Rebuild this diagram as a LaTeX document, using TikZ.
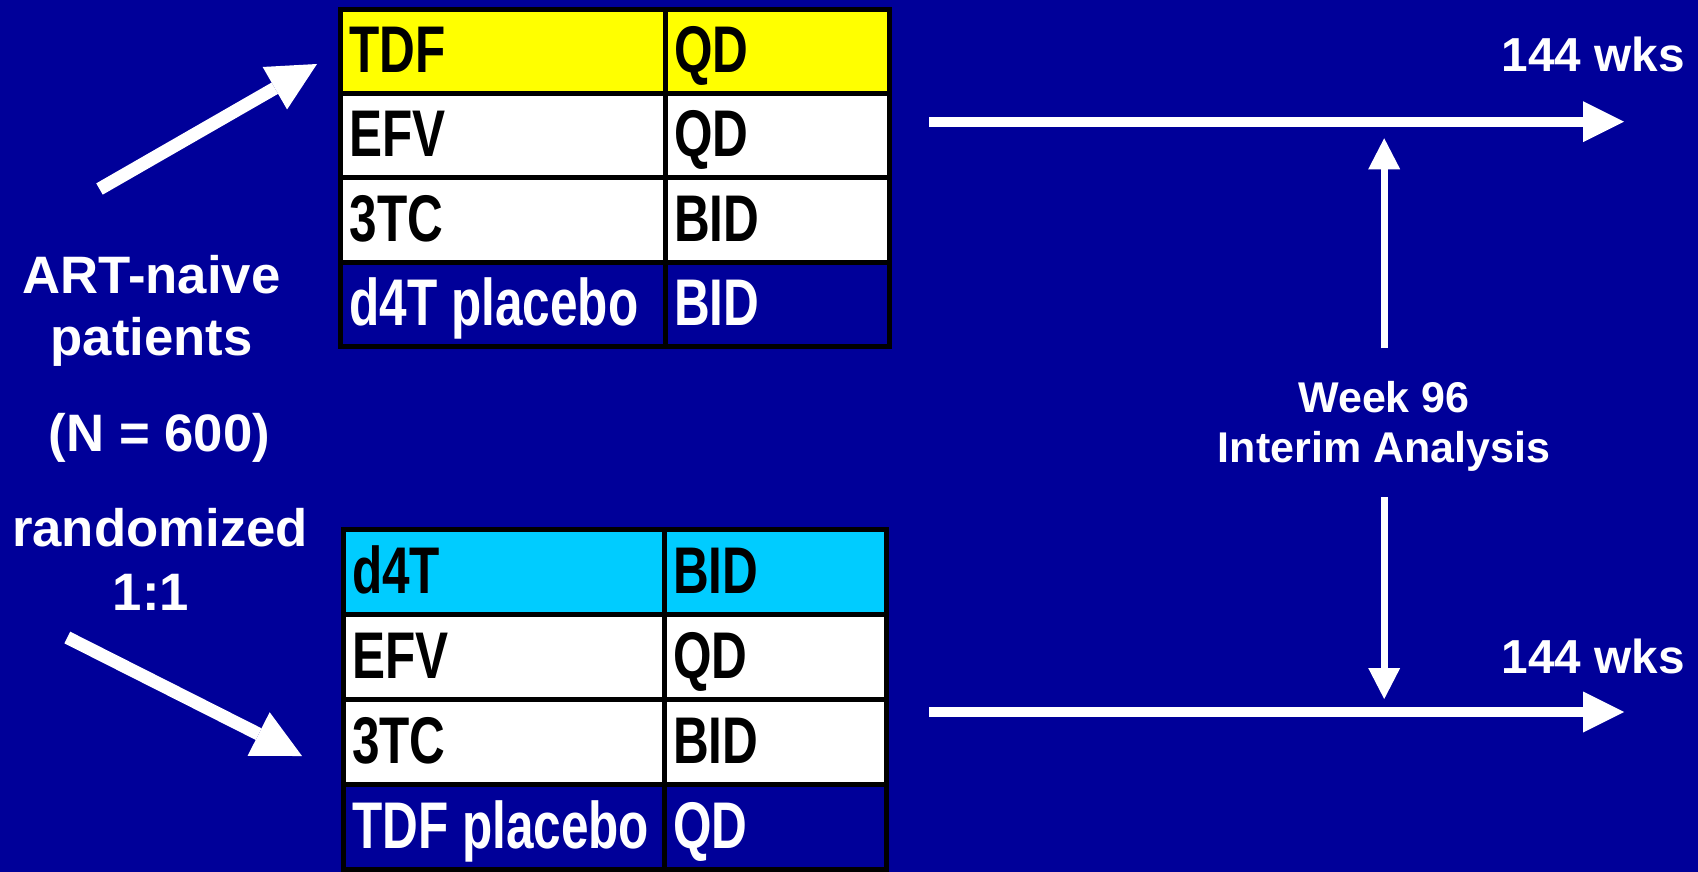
\documentclass[tikz,border=0pt]{standalone}
\usepackage{fontspec}
\setmainfont{Liberation Sans}
\newfontfamily\narrowsans[FakeStretch=0.75]{Liberation Sans}
\usetikzlibrary{arrows.meta}

\definecolor{slideblue}{RGB}{0,0,153}
\definecolor{tdfyellow}{RGB}{255,255,0}
\definecolor{dcyan}{RGB}{0,204,255}

\tikzset{
  cell/.style={draw=black, line width=5pt, rectangle, inner sep=0pt, outer sep=0pt},
  celltext/.style={anchor=base west, inner sep=0pt,
    font=\narrowsans\bfseries\fontsize{66}{70}\selectfont},
  leftlabel/.style={anchor=base, inner sep=0pt, text=white,
    font=\bfseries\fontsize{52.7}{60}\selectfont},
  wkslabel/.style={anchor=base east, inner sep=0pt, text=white,
    font=\bfseries\fontsize{47.7}{55}\selectfont},
  midlabel/.style={anchor=base, inner sep=0pt, text=white,
    font=\bfseries\fontsize{43}{50}\selectfont},
  diagarrow/.style={draw=white, line width=13pt,
    -{Triangle[length=48.6pt, width=49pt, line width=0pt]}},
  timearrow/.style={draw=white, line width=10pt,
    -{Triangle[length=41pt, width=41pt, line width=0pt]}},
  probearrow/.style={draw=white, line width=7pt,
    -{Triangle[length=31pt, width=32pt, line width=0pt]}},
}

\begin{document}
\begin{tikzpicture}[x=1pt, y=-1pt]
  % background
  \fill[slideblue] (0,0) rectangle (1698,872);
  \useasboundingbox (0,0) rectangle (1698,872);

  % regimen table of the TDF arm
  \foreach \k/\top/\bg in {
      1/9.5/tdfyellow,
      2/93.75/white,
      3/178/white,
      4/262.25/slideblue}{
    \node[cell, fill=\bg, minimum width=324.5pt, minimum height=84.25pt]
      (A\k-drug) at (502.75, {\top+42.125}) {};
    \node[cell, fill=\bg, minimum width=224.5pt, minimum height=84.25pt]
      (A\k-dose) at (777.25, {\top+42.125}) {};
  }
  \foreach \k/\top/\fg/\drug/\dose in {
      1/9.5/black/TDF/QD,
      2/93.75/black/EFV/QD,
      3/178/black/3TC/BID,
      4/262.25/white/d4T placebo/BID}{
    \node[celltext, text=\fg] (A\k-drugtext) at (349.5, {\top+84.25-21}) {\drug};
    \node[celltext, text=\fg] (A\k-dosetext) at (674, {\top+84.25-21}) {\dose};
  }

  % regimen table of the d4T arm
  \foreach \k/\top/\bg in {
      1/529.5/dcyan,
      2/614.5/white,
      3/699.5/white,
      4/784.5/slideblue}{
    \node[cell, fill=\bg, minimum width=321pt, minimum height=85pt]
      (B\k-drug) at (503.5, {\top+42.5}) {};
    \node[cell, fill=\bg, minimum width=222pt, minimum height=85pt]
      (B\k-dose) at (775, {\top+42.5}) {};
  }
  \foreach \k/\top/\fg/\drug/\dose in {
      1/529.5/black/d4T/BID,
      2/614.5/black/EFV/QD,
      3/699.5/black/3TC/BID,
      4/784.5/white/TDF placebo/QD}{
    \node[celltext, text=\fg] (B\k-drugtext) at (352, {\top+85-21}) {\drug};
    \node[celltext, text=\fg] (B\k-dosetext) at (673, {\top+85-21}) {\dose};
  }

  % study population
  \node[leftlabel] (naive)    at (151.6,293.3) {ART-naive};
  \node[leftlabel] (patients) at (151.7,355)   {patients};
  \node[leftlabel] (nsize)    at (159.5,451.7) {(N = 600)};
  \node[leftlabel] (rand)     at (160,546.7)   {randomized};
  \node[leftlabel] (ratio)    at (151,610)     {1:1};

  % randomisation arrows
  \coordinate (upTail)   at (99.5,189);
  \coordinate (upTip)    at (317,64);
  \coordinate (downTail) at (67.3,637.5);
  \coordinate (downTip)  at (302,756);
  \draw[diagarrow] (upTail) -- (upTip);
  \draw[diagarrow] (downTail) -- (downTip);

  % follow-up time lines
  \coordinate (armAstart) at (929,121.7);
  \coordinate (armAend)   at (1624,121.7);
  \coordinate (armBstart) at (929,712);
  \coordinate (armBend)   at (1624,712);
  \draw[timearrow] (armAstart) -- (armAend);
  \draw[timearrow] (armBstart) -- (armBend);
  \node[wkslabel] (endA) at (1685,71.7) {144 wks};
  \node[wkslabel] (endB) at (1685,673)  {144 wks};

  % interim analysis
  \node[midlabel] (wk96)    at (1384,412)   {Week 96};
  \node[midlabel] (interim) at (1384,462.5) {Interim Analysis};
  \coordinate (probeUpFrom)   at (1384.2,348.3);
  \coordinate (probeUpTo)     at (1384.2,138.3);
  \coordinate (probeDownFrom) at (1384.2,497.3);
  \coordinate (probeDownTo)   at (1384.2,699);
  \draw[probearrow] (probeUpFrom) -- (probeUpTo);
  \draw[probearrow] (probeDownFrom) -- (probeDownTo);
\end{tikzpicture}
\end{document}
